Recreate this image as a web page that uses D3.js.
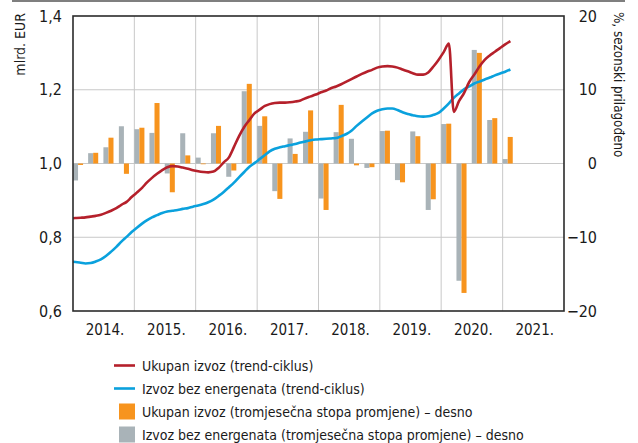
<!DOCTYPE html>
<html lang="hr">
<head>
    <meta charset="UTF-8">
    <title>Izvoz</title>
    <style>
        body { margin: 0; background: #fff; }
        text { font-family: "Liberation Sans Narrow", "Arial Narrow", "DejaVu Sans Condensed", sans-serif; fill: #1a1a1a; }
    </style>
</head>
<body>
    <svg id="chart" width="638" height="443"></svg>

    <script src="https://d3js.org/d3.v7.min.js"></script>
    <script>
        // quarterly 3-month growth rates, %, right axis (2014 Q1 - 2021 Q1)
        const quarters = ["2014-01", "2014-04", "2014-07", "2014-10",
            "2015-01", "2015-04", "2015-07", "2015-10",
            "2016-01", "2016-04", "2016-07", "2016-10",
            "2017-01", "2017-04", "2017-07", "2017-10",
            "2018-01", "2018-04", "2018-07", "2018-10",
            "2019-01", "2019-04", "2019-07", "2019-10",
            "2020-01", "2020-04", "2020-07", "2020-10",
            "2021-01"]
        const ukupanStopa = [-0.2, 1.45, 3.5, -1.4,
            4.85, 8.2, -3.9, 1.1,
            -0.1, 5.1, -0.95, 10.8,
            6.4, -4.8, 1.3, 7.2,
            -6.3, 7.95, -0.25, -0.5,
            4.45, -2.55, 3.7, -4.85,
            5.4, -17.55, 15.0, 6.15,
            3.6]
        const bezEnergStopa = [-2.3, 1.4, 2.2, 5.05,
            4.65, 4.15, -1.35, 4.1,
            0.8, 4.1, -1.8, 9.8,
            5.1, -3.75, 3.4, 4.3,
            -4.75, 4.25, 3.35, -0.6,
            4.4, -2.25, 4.35, -6.3,
            5.35, -15.9, 15.4, 5.9,
            0.6]

        // monthly trend-cycle, mlrd. EUR, left axis (Dec 2013 - Feb 2021)
        const firstMonth = "2013-12"
        const ukupanTrend = [0.851,
            0.852, 0.853, 0.854, 0.856, 0.858, 0.861, 0.866, 0.872, 0.879, 0.888, 0.896, 0.909,
            0.921, 0.934, 0.948, 0.961, 0.972, 0.982, 0.990, 0.993, 0.992, 0.989, 0.986, 0.982,
            0.979, 0.977, 0.976, 0.978, 0.988, 1.003, 1.016, 1.045, 1.075, 1.099, 1.118, 1.136,
            1.146, 1.156, 1.161, 1.164, 1.165, 1.165, 1.166, 1.168, 1.171, 1.177, 1.182, 1.187,
            1.193, 1.198, 1.204, 1.209, 1.215, 1.222, 1.229, 1.236, 1.243, 1.249, 1.254, 1.260,
            1.263, 1.264, 1.263, 1.260, 1.255, 1.250, 1.245, 1.241, 1.241, 1.247, 1.263, 1.281,
            1.302, 1.325, 1.140, 1.169, 1.191, 1.221, 1.241, 1.263, 1.281, 1.293, 1.303, 1.313,
            1.323, 1.332]
        const bezEnergTrend = [0.734,
            0.733, 0.731, 0.729, 0.730, 0.734, 0.740, 0.749, 0.761, 0.774, 0.788, 0.801, 0.814,
            0.826, 0.837, 0.846, 0.854, 0.860, 0.866, 0.870, 0.872, 0.874, 0.877, 0.879, 0.883,
            0.886, 0.890, 0.895, 0.902, 0.912, 0.923, 0.935, 0.948, 0.963, 0.977, 0.991, 1.001,
            1.012, 1.023, 1.033, 1.040, 1.044, 1.047, 1.050, 1.053, 1.057, 1.060, 1.063, 1.065,
            1.066, 1.067, 1.068, 1.069, 1.074, 1.080, 1.089, 1.102, 1.114, 1.125, 1.136, 1.143,
            1.147, 1.149, 1.149, 1.145, 1.139, 1.134, 1.131, 1.128, 1.127, 1.128, 1.132, 1.137,
            1.149, 1.163, 1.178, 1.190, 1.201, 1.209, 1.217, 1.222, 1.228, 1.233, 1.239, 1.244,
            1.249, 1.255]

        const years = [2014, 2015, 2016, 2017, 2018, 2019, 2020, 2021]
        const leftTicks = [0.6, 0.8, 1.0, 1.2, 1.4]
        const rightTicks = [-20, -10, 0, 10, 20]

        const legendItems = [
            { label: "Ukupan izvoz (trend-ciklus)", kind: "line", color: "#b5202b" },
            { label: "Izvoz bez energenata (trend-ciklus)", kind: "line", color: "#0aa1dd" },
            { label: "Ukupan izvoz (tromjesečna stopa promjene) – desno", kind: "box", color: "#f7941e" },
            { label: "Izvoz bez energenata (tromjesečna stopa promjene) – desno", kind: "box", color: "#a9b3b8" }
        ]

        const plotLeft = 73, plotRight = 564, plotTop = 16, plotBottom = 311
        const parse = d3.timeParse("%Y-%m")

        const x = d3.scaleTime()
            .domain([new Date(2014, 0, 1), new Date(2022, 0, 1)])
            .range([plotLeft, plotRight])
        const yL = d3.scaleLinear().domain([0.6, 1.4]).range([plotBottom, plotTop])
        const yR = d3.scaleLinear().domain([-20, 20]).range([plotBottom, plotTop])

        const svg = d3.select("#chart")

        // rule across the top
        svg.append("line")
            .attr("x1", 12).attr("x2", 625).attr("y1", 1).attr("y2", 1)
            .attr("stroke", "#555").attr("stroke-width", 1.5)

        svg.append("clipPath").attr("id", "plot-clip")
            .append("rect")
            .attr("x", plotLeft).attr("y", plotTop)
            .attr("width", plotRight - plotLeft).attr("height", plotBottom - plotTop)

        // grid
        const grid = svg.append("g").attr("stroke", "#c8c8c8").attr("stroke-width", 1)
        grid.selectAll("line.v")
            .data(years.slice(1))
            .enter()
            .append("line")
            .attr("x1", d => x(new Date(d, 0, 1))).attr("x2", d => x(new Date(d, 0, 1)))
            .attr("y1", plotTop).attr("y2", plotBottom)
        grid.selectAll("line.h")
            .data(leftTicks.slice(1, -1))
            .enter()
            .append("line")
            .attr("x1", plotLeft).attr("x2", plotRight)
            .attr("y1", d => yL(d)).attr("y2", d => yL(d))

        // bars
        const qw = x(new Date(2014, 3, 1)) - x(new Date(2014, 0, 1))
        const bw = qw / 3
        const barData = quarters.map((q, i) => ({ date: parse(q), orange: ukupanStopa[i], gray: bezEnergStopa[i] }))

        const bars = svg.append("g")
        bars.selectAll("rect.gray")
            .data(barData)
            .enter()
            .append("rect")
            .attr("x", d => x(d.date))
            .attr("y", d => yR(Math.max(0, d.gray)))
            .attr("width", bw)
            .attr("height", d => Math.abs(yR(d.gray) - yR(0)))
            .attr("fill", "#a9b3b8")
        bars.selectAll("rect.orange")
            .data(barData)
            .enter()
            .append("rect")
            .attr("x", d => x(d.date) + bw)
            .attr("y", d => yR(Math.max(0, d.orange)))
            .attr("width", bw)
            .attr("height", d => Math.abs(yR(d.orange) - yR(0)))
            .attr("fill", "#f7941e")

        // trend lines, points at mid-month
        const start = parse(firstMonth)
        const monthDate = i => {
            const d = d3.timeMonth.offset(start, i)
            return new Date(d.getFullYear(), d.getMonth(), 16)
        }
        const line = d3.line()
            .x((d, i) => x(monthDate(i)))
            .y(d => yL(d))
            .curve(d3.curveMonotoneX)

        const lines = svg.append("g").attr("clip-path", "url(#plot-clip)")
        lines.append("path")
            .datum(bezEnergTrend)
            .attr("d", line)
            .attr("fill", "none")
            .attr("stroke", "#0aa1dd")
            .attr("stroke-width", 2.6)
        lines.append("path")
            .datum(ukupanTrend)
            .attr("d", line)
            .attr("fill", "none")
            .attr("stroke", "#b5202b")
            .attr("stroke-width", 2.6)
            .attr("stroke-linejoin", "round")

        // frame
        svg.append("rect")
            .attr("x", plotLeft).attr("y", plotTop)
            .attr("width", plotRight - plotLeft).attr("height", plotBottom - plotTop)
            .attr("fill", "none").attr("stroke", "#2b2b2b").attr("stroke-width", 1.6)

        // left axis labels
        const fmt = d3.format(".1f")
        svg.append("g")
            .selectAll("text")
            .data(leftTicks)
            .enter()
            .append("text")
            .attr("x", 62)
            .attr("y", d => yL(d) + 5.5)
            .attr("text-anchor", "end")
            .attr("font-size", 16)
            .text(d => fmt(d).replace(".", ","))

        // right axis labels
        svg.append("g")
            .selectAll("text")
            .data(rightTicks)
            .enter()
            .append("text")
            .attr("x", 597)
            .attr("y", d => yR(d) + 5.5)
            .attr("text-anchor", "end")
            .attr("font-size", 16)
            .text(d => d < 0 ? "\u2212" + Math.abs(d) : d)

        // year labels
        svg.append("g")
            .selectAll("text")
            .data(years)
            .enter()
            .append("text")
            .attr("x", d => x(new Date(d, 6, 2)) + 1.5)
            .attr("y", 335)
            .attr("text-anchor", "middle")
            .attr("font-size", 15)
            .text(d => d + ".")

        // axis titles
        svg.append("text")
            .attr("transform", "translate(25,13) rotate(-90)")
            .attr("text-anchor", "end")
            .attr("font-size", 14)
            .text("mlrd. EUR")
        svg.append("text")
            .attr("transform", "translate(614,12) rotate(90)")
            .attr("text-anchor", "start")
            .attr("font-size", 13.3)
            .text("%, sezonski prilagođeno")

        // legend
        const legend = svg.append("g")
            .selectAll("g")
            .data(legendItems)
            .enter()
            .append("g")
            .attr("transform", (d, i) => `translate(114, ${365.5 + i * 23})`)
        legend.filter(d => d.kind === "line")
            .append("line")
            .attr("x1", 0).attr("x2", 21).attr("y1", 0).attr("y2", 0)
            .attr("stroke", d => d.color).attr("stroke-width", 2.6)
        legend.filter(d => d.kind === "box")
            .append("rect")
            .attr("x", 5).attr("y", -8).attr("width", 16).attr("height", 16)
            .attr("fill", d => d.color)
        legend.append("text")
            .attr("x", 28)
            .attr("y", 5)
            .attr("font-size", 14)
            .text(d => d.label)
    </script>
</body>
</html>
